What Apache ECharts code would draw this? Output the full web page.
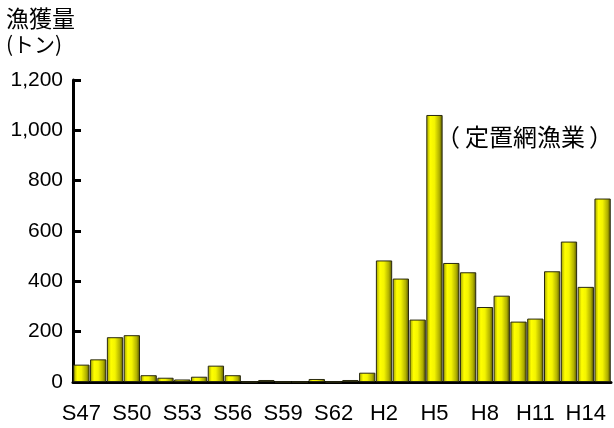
<!DOCTYPE html>
<html>
<head>
<meta charset="utf-8">
<script src="https://cdn.jsdelivr.net/npm/echarts@6/dist/echarts.min.js"></script>
<style>
  html, body { margin: 0; padding: 0; background: #fff; }
  #chart { width: 614px; height: 428px; }
</style>
</head>
<body>
<div id="chart"></div>
<script>
// 年別の漁獲量（定置網漁業）
const years = [
  'S47','S48','S49','S50','S51','S52','S53','S54','S55','S56',
  'S57','S58','S59','S60','S61','S62','S63',
  'H1','H2','H3','H4','H5','H6','H7','H8','H9','H10','H11','H12','H13','H14','H15'
];
const catch_t = [
  69, 90, 178, 186, 27, 17, 10, 21, 65, 27,
  0, 8, 0, 0, 12, 0, 8,
  37, 483, 411, 248, 1061, 473, 436, 298, 343, 240, 252, 440, 558, 378, 729
];
const yTicks = [0, 200, 400, 600, 800, 1000, 1200];

const unitTitle = '漁獲量';
const unitSub = '(トン)';
const seriesNote = '定置網漁業';

const chart = echarts.init(document.getElementById('chart'));
const latinFont = '"Liberation Sans", Arial, sans-serif';
const cjkFont = '"Noto Sans CJK JP", sans-serif';

chart.setOption({
  animation: false,
  grid: { left: 73, right: 3, top: 80, bottom: 46, containLabel: false },
  xAxis: {
    type: 'category',
    data: years,
    boundaryGap: true,
    axisLine: { lineStyle: { color: '#000', width: 3 } },
    axisTick: { inside: true, length: 7, interval: 0, lineStyle: { color: '#000', width: 3 } },
    axisLabel: {
      interval: 2,
      margin: 21,
      color: '#000',
      fontSize: 22,
      fontFamily: latinFont
    }
  },
  yAxis: {
    type: 'value',
    min: yTicks[0],
    max: yTicks[yTicks.length - 1],
    interval: yTicks[1] - yTicks[0],
    splitLine: { show: false },
    axisLine: { show: true, lineStyle: { color: '#000', width: 3 } },
    axisTick: { show: true, inside: true, length: 8, lineStyle: { color: '#000', width: 3 } },
    axisLabel: {
      margin: 10,
      color: '#000',
      fontSize: 21,
      fontFamily: latinFont,
      formatter: v => v.toLocaleString('en-US')
    }
  },
  series: [{
    type: 'bar',
    data: catch_t,
    barCategoryGap: '3%',
    itemStyle: {
      borderColor: '#2a2a10',
      borderWidth: 1,
      color: new echarts.graphic.LinearGradient(0, 0, 1, 0, [
        { offset: 0, color: '#9c9c00' },
        { offset: 0.25, color: '#ffff00' },
        { offset: 0.5, color: '#f4f400' },
        { offset: 0.8, color: '#b0b000' },
        { offset: 1, color: '#505000' }
      ])
    }
  }],
  graphic: [
    { type: 'text', left: 6, top: 7, style: { text: unitTitle, font: '23px ' + cjkFont, fill: '#000' } },
    { type: 'text', left: 6, top: 34, style: { text: unitSub, font: '21px ' + cjkFont, fill: '#000' } },
    {
      type: 'text', right: 1, top: 125,
      style: {
        text: '{a|（}{t|' + seriesNote + '}{b|）}',
        rich: {
          a: { fontSize: 24, fontFamily: cjkFont, fill: '#000', padding: [0, 5, 0, 0] },
          t: { fontSize: 24, fontFamily: cjkFont, fill: '#000' },
          b: { fontSize: 24, fontFamily: cjkFont, fill: '#000', padding: [0, 0, 0, 4] }
        }
      }
    }
  ]
});
</script>
</body>
</html>
